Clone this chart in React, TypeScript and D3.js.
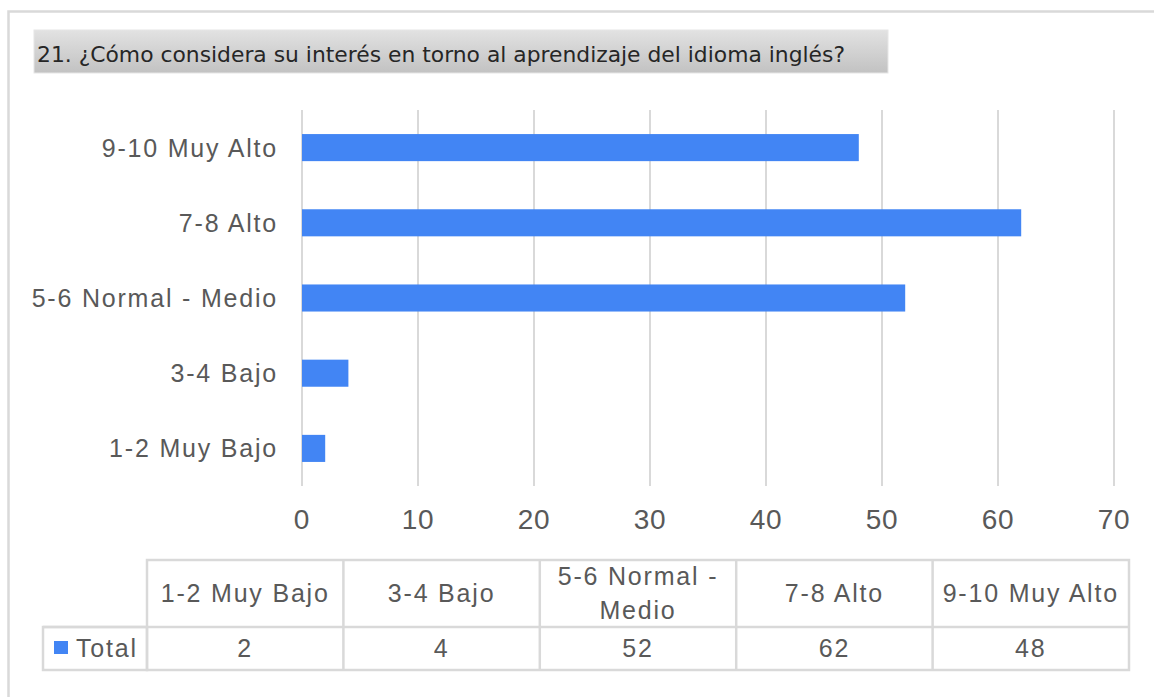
import React from "react";
import * as d3 from "d3";

const categories = ["9-10 Muy Alto", "7-8 Alto", "5-6 Normal - Medio", "3-4 Bajo", "1-2 Muy Bajo"];
const values = [48, 62, 52, 4, 2];
const tableCategories = ["1-2 Muy Bajo", "3-4 Bajo", "5-6 Normal - Medio", "7-8 Alto", "9-10 Muy Alto"];
const tableValues = [2, 4, 52, 62, 48];
const tickValues = [0, 10, 20, 30, 40, 50, 60, 70];
const seriesName = "Total";
const title = "21. ¿Cómo considera su interés en torno al aprendizaje del idioma inglés?";

const W = 1154;
const H = 697;
const BLUE = "#4285f4";
const GRID = "#d9d9d9";
const TEXT = "#595959";
const FONT = "'Liberation Sans', Arial, sans-serif";

export default function App() {
  const x = d3.scaleLinear().domain([0, 70]).range([302, 1114]);
  const y = d3
    .scaleBand<string>()
    .domain(categories)
    .range([110, 486])
    .paddingInner(0.64)
    .paddingOuter(0.32);

  const col = d3
    .scaleBand<string>()
    .domain(tableCategories)
    .range([147, 1129]);

  const headerTop = 560;
  const rowDiv = 627;
  const tableBottom = 670;

  const splitHeader = (s: string): string[] => {
    if (s === "5-6 Normal - Medio") return ["5-6 Normal -", "Medio"];
    return [s];
  };

  return (
    <svg
      width={W}
      height={H}
      style={{ position: "absolute", left: 0, top: 0, display: "block", background: "#fff" }}
      fontFamily={FONT}
    >
      <defs>
        <linearGradient id="titleGrad" x1="0" y1="0" x2="0" y2="1">
          <stop offset="0%" stopColor="#e2e2e2" />
          <stop offset="100%" stopColor="#c2c2c2" />
        </linearGradient>
      </defs>
      <rect x={0} y={0} width={W} height={H} fill="#fff" />
      {/* outer chart border */}
      <rect x={8.5} y={11.5} width={W + 20} height={H + 20} fill="none" stroke="#d9d9d9" strokeWidth={2.5} />

      {/* title */}
      <rect x={34} y={30} width={854} height={43} fill="url(#titleGrad)" stroke="#e6e6e6" strokeWidth={1} />
      <text
        x={37}
        y={62}
        fontFamily="'DejaVu Sans', Tahoma, Verdana, sans-serif"
        fontSize={22}
        fill="#262626"
        textLength={808}
        lengthAdjust="spacingAndGlyphs"
      >
        {title}
      </text>

      {/* gridlines */}
      {tickValues.map((t) => (
        <line key={"g" + t} x1={x(t)} x2={x(t)} y1={110} y2={486} stroke={GRID} strokeWidth={2} />
      ))}

      {/* bars */}
      {categories.map((c, i) => (
        <rect
          key={"b" + c}
          x={x(0)}
          y={y(c)!}
          width={x(values[i]) - x(0)}
          height={y.bandwidth()}
          fill={BLUE}
        />
      ))}

      {/* category labels */}
      {categories.map((c) => (
        <text
          key={"l" + c}
          x={278}
          y={y(c)! + y.bandwidth() / 2 + 9}
          textAnchor="end"
          fontSize={25}
          letterSpacing={1.8}
          fill={TEXT}
        >
          {c}
        </text>
      ))}

      {/* tick labels */}
      {tickValues.map((t) => (
        <text key={"t" + t} x={x(t)} y={529} textAnchor="middle" fontSize={28} letterSpacing={0.8} fill={TEXT}>
          {t}
        </text>
      ))}

      {/* data table */}
      <g stroke={GRID} strokeWidth={2.5} fill="none">
        <rect x={147} y={headerTop} width={1129 - 147} height={tableBottom - headerTop} />
        <rect x={43} y={rowDiv} width={147 - 43} height={tableBottom - rowDiv} />
        <line x1={43} x2={1129} y1={rowDiv} y2={rowDiv} />
        {tableCategories.slice(1).map((c) => (
          <line key={"v" + c} x1={col(c)!} x2={col(c)!} y1={headerTop} y2={tableBottom} />
        ))}
      </g>
      {tableCategories.map((c) => {
        const lines = splitHeader(c);
        const cx = col(c)! + col.bandwidth() / 2;
        if (lines.length === 1) {
          return (
            <text key={"h" + c} x={cx} y={602} textAnchor="middle" fontSize={25} letterSpacing={1.8} fill={TEXT}>
              {c}
            </text>
          );
        }
        return (
          <text key={"h" + c} textAnchor="middle" fontSize={25} letterSpacing={1.8} fill={TEXT}>
            <tspan x={cx} y={585}>{lines[0]}</tspan>
            <tspan x={cx} y={619}>{lines[1]}</tspan>
          </text>
        );
      })}
      {tableValues.map((v, i) => (
        <text
          key={"val" + i}
          x={col(tableCategories[i])! + col.bandwidth() / 2}
          y={657}
          textAnchor="middle"
          fontSize={25}
          letterSpacing={1.8}
          fill={TEXT}
        >
          {v}
        </text>
      ))}
      <rect x={54} y={641} width={14} height={13} fill={BLUE} />
      <text x={76} y={657} fontSize={25} letterSpacing={1.8} fill={TEXT}>
        {seriesName}
      </text>
    </svg>
  );
}
